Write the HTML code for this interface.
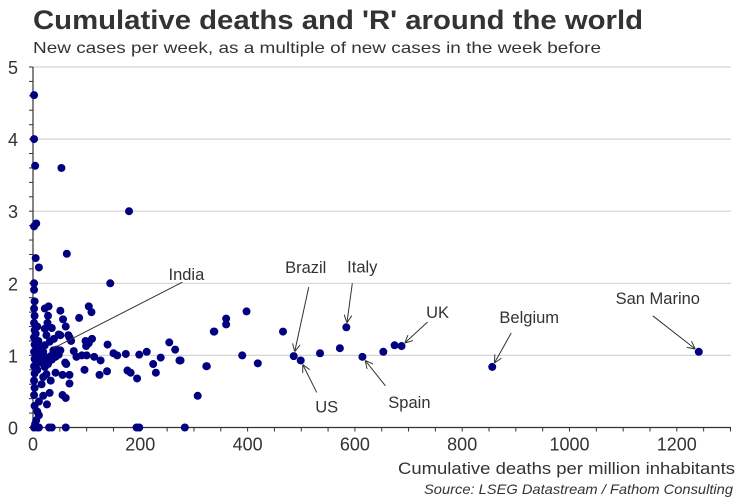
<!DOCTYPE html>
<html><head><meta charset="utf-8"><style>
body{margin:0;background:#fff;}
svg{display:block;font-family:"Liberation Sans",Arial,sans-serif;}
</style></head><body>
<svg width="750" height="500" viewBox="0 0 750 500">
<defs><marker id="ah" markerWidth="8" markerHeight="8" refX="7" refY="4" orient="auto" markerUnits="userSpaceOnUse"><path d="M0,0 L8,4 L0,8" fill="none" stroke="#333" stroke-width="1"/></marker></defs>
<text x="33" y="29" font-size="27" font-weight="bold" fill="#333" textLength="610" lengthAdjust="spacingAndGlyphs">Cumulative deaths and 'R' around the world</text>
<text x="33" y="53" font-size="16" fill="#333" textLength="568" lengthAdjust="spacingAndGlyphs">New cases per week, as a multiple of new cases in the week before</text>
<g id="grid"></g><g id="axes"></g><g id="pts"></g><g id="ann"></g>
<text x="398" y="474" font-size="17" fill="#333" textLength="337" lengthAdjust="spacingAndGlyphs">Cumulative deaths per million inhabitants</text>
<text x="424" y="494" font-size="14" font-style="italic" fill="#333" textLength="309" lengthAdjust="spacingAndGlyphs">Source: LSEG Datastream / Fathom Consulting</text>
</svg>
<script>
const deaths=[2,2,4,53,179,6,2,63,5,11,144,2,2,337,275,307,283,323,338,360,360,398,390,419,466,486,499,535,572,584,614,653,674,687,856,1241,
254,265,273,324,238,229,224,212,198,194,193,198,182,176,173,157,150,139,138,124,126,114,110,104,99,98,96,100,104,109,86,91,81,76,71,68,66,61,56,51,60,62,68,68,61,55,55,61,51,48,44,51,48,42,42,33,31,35,30,38,35,35,39,29,28,22,27,22,31,25,22,19,16,28,22,25,33,19,25,16,19,26,11,8,11,2,8,11,
3,2,3,2,3,2,3,2,3,2,3,2,3,2,3,8,6,8,7,8,5,6,12,14,10,15,13,9,18,4,16,6];
const rValues=[4.61,4.0,3.63,3.6,3.0,2.83,2.79,2.41,2.35,2.22,2.0,2.0,1.91,1.33,0.93,0.44,0,0.85,1.33,1.51,1.43,1.61,1.0,0.89,1.33,0.99,0.93,1.03,1.10,1.39,0.98,1.05,1.14,1.13,0.84,1.05,
1.18,1.08,0.93,0.85,0.97,0.76,0.88,1.05,1.01,0.68,0,0,0.76,0.79,1.02,1.0,1.03,1.15,0.78,0.73,0.93,0.98,1.23,1.17,1.13,1.2,0.8,1.0,1.68,1.6,1.52,1.0,0.98,1.06,1.2,1.25,1.28,1.4,1.5,1.62,0.9,0.88,0.73,0.61,0.41,0.45,0.73,0,1.28,1.29,1.08,1.07,1.01,0.98,0.76,0.65,0.48,0,0,1.07,0.94,1.38,1.23,1.68,1.55,1.65,1.45,1.37,1.19,1.28,1.14,1.05,0.97,0.88,0.84,0.97,0.99,0.7,0.74,0.6,0.44,0.32,0.36,0.22,0.17,0,0,0,
1.75,1.65,1.55,1.45,1.35,1.25,1.15,1.05,0.95,0.85,0.75,0.65,0.55,0.45,0.3,1.4,1.2,1.1,0.95,0.8,1.3,1.0,1.1,0.9,1.2,1.05,0.95,1.15,1.0,0.05,0.9,0.1];
const xTicks=[0,200,400,600,800,1000,1200];
const yTicks=[0,1,2,3,4,5];
const labelNames=["India","Brazil","Italy","UK","US","Spain","Belgium","San Marino"];
const labelX=[38,486,584,687,499,614,856,1241];
const labelY=[1.1,0.99,1.39,1.13,0.93,0.98,0.84,1.05];
const NS="http://www.w3.org/2000/svg";
const X0=33,XS=107.3/200,Y0=427.5,YS=72.1;
const xs=d=>X0+d*XS, ys=r=>Y0-r*YS;
function mk(t,a,p){const e=document.createElementNS(NS,t);for(const k in a)e.setAttribute(k,a[k]);p.appendChild(e);return e;}
const grid=document.getElementById('grid'),axes=document.getElementById('axes'),pts=document.getElementById('pts'),ann=document.getElementById('ann');
yTicks.forEach(v=>{
 if(v>0){const g=mk('line',{x1:X0,x2:731,y1:ys(v),y2:ys(v),stroke:'#d4d4d4','stroke-width':1.2},grid);
 
 }
 const t=mk('text',{x:13,y:ys(v)+7,'text-anchor':'middle','font-size':18,fill:'#333'},axes);t.textContent=v;
 
 
});
for(let v=0;v<=5.001;v+=0.2){mk('line',{x1:X0-4,x2:X0,y1:ys(v),y2:ys(v),stroke:'#333'},axes);}
for(let d=0;d<=1300;d+=50){mk('line',{x1:xs(d),x2:xs(d),y1:Y0,y2:Y0+4,stroke:'#333'},axes);}
xTicks.forEach(v=>{const t=mk('text',{x:xs(v),y:Y0+23,'text-anchor':'middle','font-size':18,fill:'#333'},axes);t.textContent=v;
 
 });
const ya=mk('line',{x1:X0,x2:X0,y1:ys(5),y2:Y0,stroke:'#333','stroke-width':1.2},axes);


const xa=mk('line',{x1:X0,x2:731,y1:Y0,y2:Y0,stroke:'#333','stroke-width':1.2},axes);


deaths.forEach((d,i)=>{const c=mk('circle',{cx:xs(d),cy:ys(rValues[i]),r:4,fill:'#000080'},pts);
 
 });
const off=[[133,-68,129,-66],[12,-83,15,-69],[16,-55,6,-44],[36,-28,26,-24],[26,52,16,32],[47,51,23,29],[37,-44,19,-34],[-41,-48,-46,-36]];
labelNames.forEach((n,i)=>{const px=xs(labelX[i]),py=ys(labelY[i]);const o=off[i];
 const sx=px+o[2],sy=py+o[3];
 const dx=px-sx,dy=py-sy,L=Math.hypot(dx,dy),k=i==0?0:5.5;
 const ln=mk('line',{x1:sx,y1:sy,x2:px-dx/L*k,y2:py-dy/L*k,stroke:'#333','stroke-width':1},ann);
 if(i>0)ln.setAttribute('marker-end','url(#ah)');
 
 
 const t=mk('text',{x:px+o[0],y:py+o[1],'text-anchor':'middle','font-size':16.5,fill:'#333'},ann);t.textContent=n;
 
 });
</script>
</body></html>
